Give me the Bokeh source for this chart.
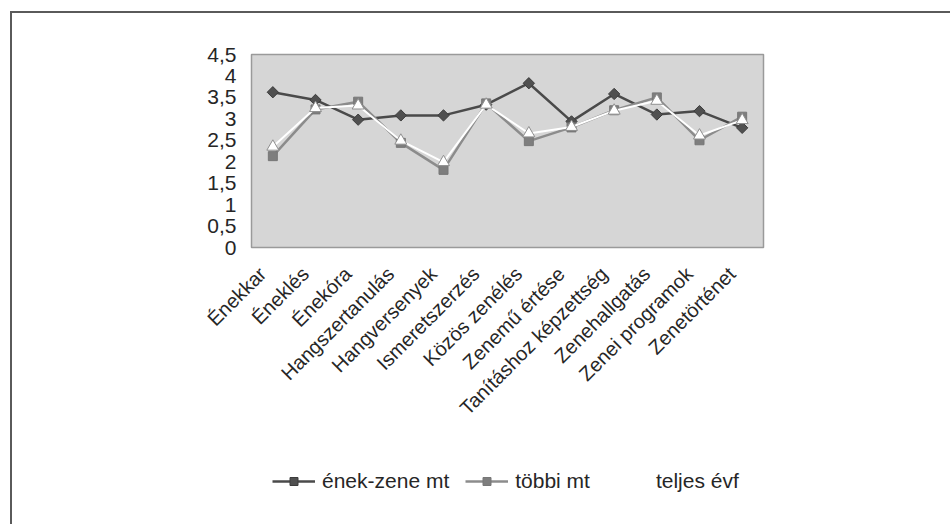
from math import pi

from bokeh.embed import file_html
from bokeh.layouts import column
from bokeh.models import FixedTicker, Legend, LegendItem, LinearAxis, Range1d
from bokeh.plotting import figure
from bokeh.resources import INLINE

# Survey topics and mean ratings for the three groups
categories = [
    "Énekkar", "Éneklés", "Énekóra", "Hangszertanulás", "Hangversenyek",
    "Ismeretszerzés", "Közös zenélés", "Zenemű értése",
    "Tanításhoz képzettség", "Zenehallgatás", "Zenei programok", "Zenetörténet",
]
enek_zene_mt = [3.62, 3.44, 2.98, 3.08, 3.08, 3.33, 3.83, 2.94, 3.58, 3.10, 3.18, 2.79]
tobbi_mt = [2.13, 3.22, 3.40, 2.44, 1.81, 3.36, 2.48, 2.80, 3.20, 3.50, 2.50, 3.05]
teljes_evf = [2.35, 3.25, 3.31, 2.49, 1.99, 3.33, 2.66, 2.81, 3.19, 3.42, 2.61, 2.97]

series_names = ["ének-zene mt", "többi mt", "teljes évf"]
y_ticks = [0, 0.5, 1, 1.5, 2, 2.5, 3, 3.5, 4, 4.5]
y_tick_labels = ["0", "0,5", "1", "1,5", "2", "2,5", "3", "3,5", "4", "4,5"]

FONT = "Liberation Sans"
TEXT = "#262626"

# line / marker styles shared by the chart and its key
STYLES = [
    dict(line=dict(line_color="#4a4a4a", line_width=2.5),
         marker=dict(marker="square", angle=pi / 4, size=8,
                     fill_color="#505050", line_color="#3c3c3c")),
    dict(line=dict(line_color="#8c8c8c", line_width=2.5),
         marker=dict(marker="square", size=9,
                     fill_color="#7e7e7e", line_color="#777777")),
    dict(line=dict(line_color="white", line_width=2),
         marker=dict(marker="triangle", size=12,
                     fill_color="white", line_color="#8f8f8f", line_width=1)),
]
series_values = [enek_zene_mt, tobbi_mt, teljes_evf]

# each category occupies one unit; points sit in the middle of their slot
n = len(categories)
x_pos = [i + 0.5 for i in range(n)]

p = figure(
    x_range=Range1d(0, n),
    y_range=Range1d(0, 4.5),
    width=938, height=442,
    output_backend="svg", toolbar_location=None,
    min_border_left=239, min_border_right=187,
    min_border_top=41, min_border_bottom=208,
    background_fill_color="#d6d6d6",
    border_fill_color="white",
    outline_line_color="#9a9a9a", outline_line_width=1.5,
)
p.grid.visible = False
p.xaxis.visible = False

# y axis with comma decimals
p.yaxis.ticker = FixedTicker(ticks=y_ticks)
p.yaxis.major_label_overrides = dict(zip(y_ticks, y_tick_labels))
p.yaxis.axis_line_color = None
p.yaxis.major_tick_line_color = None
p.yaxis.minor_tick_line_color = None
p.yaxis.major_tick_out = 0
p.yaxis.major_label_standoff = 15
p.yaxis.major_label_text_font = FONT
p.yaxis.major_label_text_font_size = "21px"
p.yaxis.major_label_text_color = TEXT

# slanted category labels, each ending a little left of its slot centre
p.extra_x_ranges = {"labels": Range1d(0.24, n + 0.24)}
label_axis = LinearAxis(
    x_range_name="labels",
    ticker=FixedTicker(ticks=x_pos),
    major_label_overrides=dict(zip(x_pos, categories)),
    axis_line_color=None,
    major_tick_line_color=None, minor_tick_line_color=None,
    major_tick_out=0,
    major_label_orientation=pi / 4,
    major_label_standoff=23,
    major_label_text_font=FONT,
    major_label_text_font_size="20px",
    major_label_text_color=TEXT,
)
p.add_layout(label_axis, "below")

for ys, st in zip(series_values, STYLES):
    p.line(x_pos, ys, **st["line"])
    p.scatter(x_pos, ys, **st["marker"])

# key strip underneath the chart (its frame lines up with the chart frame);
# the series are repeated here above the strip's visible range so that the
# key samples carry the same styling
k = figure(
    width=938, height=69,
    x_range=Range1d(0, n), y_range=Range1d(0, 1),
    output_backend="svg", toolbar_location=None,
    min_border_left=0, min_border_right=0, min_border_top=0, min_border_bottom=0,
    background_fill_color="white", border_fill_color="white",
    outline_line_color=None,
)
k.axis.visible = False
k.grid.visible = False
items = []
for i, (name, ys, st) in enumerate(zip(series_names, series_values, STYLES)):
    rl = k.line(x_pos, ys, **st["line"])
    rs = [rl]
    if i < 2:
        # the white total series shows no sample in the key
        rs.append(k.scatter(x_pos, ys, **st["marker"]))
    items.append(LegendItem(label=name, renderers=rs))

legend = Legend(
    items=items,
    orientation="horizontal",
    location=(21, 31),
    padding=0, margin=0, spacing=16,
    glyph_width=43, glyph_height=20, label_standoff=7, label_height=20,
    label_text_font=FONT, label_text_font_size="21px",
    label_text_color=TEXT,
    background_fill_alpha=0, border_line_color=None,
)
k.add_layout(legend)

layout = column(p, k, spacing=0)
# outer chart box: left and top edges of the chart area
layout.styles = {
    "margin-left": "10px", "margin-top": "11px",
    "border-left": "2px solid #5a5a5a", "border-top": "2px solid #5a5a5a",
}

open("out.html", "w").write(file_html(layout, INLINE))
